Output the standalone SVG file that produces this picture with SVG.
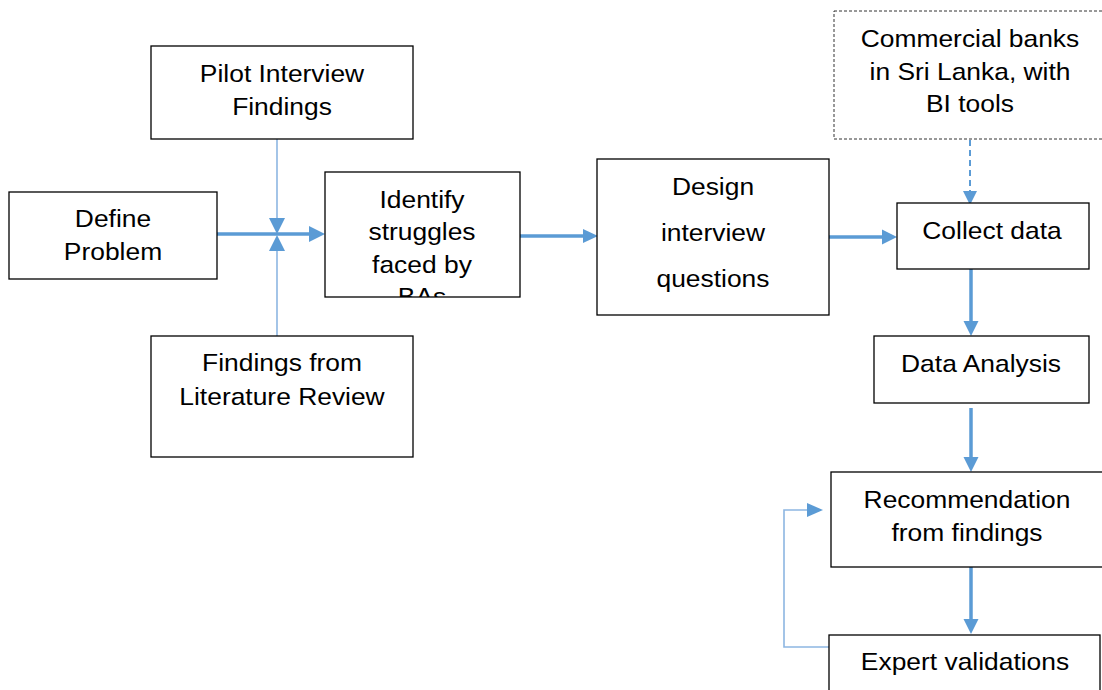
<svg xmlns="http://www.w3.org/2000/svg" width="1102" height="690" viewBox="0 0 1102 690">
<style>
.box{fill:#fff;stroke:#000;stroke-width:1.3}
.dbox{fill:#fff;stroke:#333;stroke-width:1;stroke-dasharray:3 2}
.t{font-family:"Liberation Sans",Arial,sans-serif;font-size:24px;fill:#000;text-anchor:middle}
.thick{fill:none;stroke:#5B9BD5;stroke-width:3.5}
.thin{fill:none;stroke:#8DB6E2;stroke-width:1.6}
.dash{fill:none;stroke:#5B9BD5;stroke-width:2;stroke-dasharray:6 4}
.head{fill:#5B9BD5}
</style>
<defs>
<clipPath id="clipId"><rect x="325" y="172" width="195" height="125"/></clipPath>
</defs>
<rect width="1102" height="690" fill="#fff"/>
<g id="connectors">
<line class="thick" x1="217" y1="234" x2="312" y2="234"/>
<polygon class="head" points="325,234 309,226 309,242"/>
<line class="thin" x1="277" y1="139" x2="277" y2="222"/>
<polygon class="head" points="277,234 269,218 285,218"/>
<line class="thin" x1="277" y1="336" x2="277" y2="248"/>
<polygon class="head" points="277,235 269,251 285,251"/>
<line class="thick" x1="520" y1="236" x2="585" y2="236"/>
<polygon class="head" points="598,236 583,229 583,243"/>
<line class="thick" x1="829" y1="237" x2="884" y2="237"/>
<polygon class="head" points="897,237 882,229.500 882,244.500"/>
<line class="dash" x1="970" y1="140" x2="970" y2="192"/>
<polygon class="head" points="970,205 963,191 977,191"/>
<line class="thick" x1="971" y1="269" x2="971" y2="322"/>
<polygon class="head" points="971,336 963.500,321 978.500,321"/>
<line class="thick" x1="971" y1="408" x2="971" y2="458"/>
<polygon class="head" points="971,472 963.500,457 978.500,457"/>
<line class="thick" x1="971" y1="567" x2="971" y2="620"/>
<polygon class="head" points="971,634 963.500,619 978.500,619"/>
<polyline class="thin" points="829,647 784,647 784,510 810,510"/>
<polygon class="head" points="823,510 807,503 807,517"/>
</g>
<g id="define">
<rect class="box" x="9" y="192" width="208" height="87"/>
<text class="t" transform="translate(113,227) scale(1.1,1)">Define</text>
<text class="t" transform="translate(113,260) scale(1.1,1)">Problem</text>
</g>
<g id="pilot">
<rect class="box" x="151" y="46" width="262" height="93"/>
<text class="t" transform="translate(282,82) scale(1.1,1)">Pilot Interview</text>
<text class="t" transform="translate(282,115) scale(1.1,1)">Findings</text>
</g>
<g id="literature">
<rect class="box" x="151" y="336" width="262" height="121"/>
<text class="t" transform="translate(282,371) scale(1.1,1)">Findings from</text>
<text class="t" transform="translate(282,405) scale(1.1,1)">Literature Review</text>
</g>
<g id="identify">
<rect class="box" x="325" y="172" width="195" height="125"/>
<g clip-path="url(#clipId)">
<text class="t" transform="translate(422,208) scale(1.1,1)">Identify</text>
<text class="t" transform="translate(422,240) scale(1.1,1)">struggles</text>
<text class="t" transform="translate(422,273) scale(1.1,1)">faced by</text>
<text class="t" transform="translate(422,305) scale(1.1,1)">BAs</text>
</g>
</g>
<g id="design">
<rect class="box" x="597" y="159" width="232" height="156"/>
<text class="t" transform="translate(713,195) scale(1.1,1)">Design</text>
<text class="t" transform="translate(713,241) scale(1.1,1)">interview</text>
<text class="t" transform="translate(713,287) scale(1.1,1)">questions</text>
</g>
<g id="banks">
<rect class="dbox" x="834" y="11" width="280" height="128"/>
<text class="t" transform="translate(970,47) scale(1.1,1)">Commercial banks</text>
<text class="t" transform="translate(970,80) scale(1.1,1)">in Sri Lanka, with</text>
<text class="t" transform="translate(970,112) scale(1.1,1)">BI tools</text>
</g>
<g id="collect">
<rect class="box" x="897" y="203" width="192" height="66"/>
<text class="t" transform="translate(992,239) scale(1.1,1)">Collect data</text>
</g>
<g id="analysis">
<rect class="box" x="874" y="336" width="215" height="67"/>
<text class="t" transform="translate(981,372) scale(1.1,1)">Data Analysis</text>
</g>
<g id="recommendation">
<rect class="box" x="831" y="472" width="280" height="95"/>
<text class="t" transform="translate(967,508) scale(1.1,1)">Recommendation</text>
<text class="t" transform="translate(967,541) scale(1.1,1)">from findings</text>
</g>
<g id="expert">
<rect class="box" x="829" y="635" width="271" height="70"/>
<text class="t" transform="translate(965,670) scale(1.1,1)">Expert validations</text>
</g>
</svg>
